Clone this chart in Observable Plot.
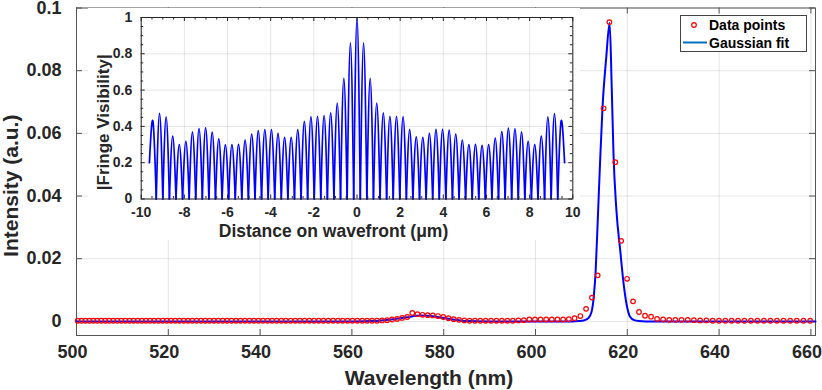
<!DOCTYPE html>
<html><head><meta charset="utf-8">
<script src="https://cdn.jsdelivr.net/npm/d3@7"></script>
<script src="https://cdn.jsdelivr.net/npm/@observablehq/plot@0.6"></script>
<style>
body{margin:0;background:#fff;}
#wrap{position:relative;width:822px;height:390px;font-family:"Liberation Sans",Arial,Helvetica,sans-serif;}
#wrap svg{display:block;}
#inset{position:absolute;left:88px;top:8px;}
#legend{position:absolute;left:680px;top:15px;}
</style></head><body><div id="wrap"><div id="main"></div><div id="inset"></div><div id="legend"></div></div>
<script>
// ---------- main spectrum data ----------
const wavelength = [
 500.26,501.11,501.96,502.82,503.68,504.54,505.41,506.28,507.15,508.02,
 508.90,509.78,510.66,511.55,512.44,513.33,514.23,515.13,516.03,516.93,
 517.85,518.76,519.67,520.59,521.51,522.43,523.36,524.29,525.22,526.16,
 527.11,528.05,529.00,529.95,530.90,531.86,532.82,533.78,534.76,535.73,
 536.70,537.68,538.66,539.64,540.64,541.63,542.62,543.62,544.62,545.62,
 546.64,547.65,548.67,549.69,550.72,551.75,552.78,553.81,554.85,555.90,
 556.95,558.00,559.05,
 560.12,561.18,562.25,563.32,564.40,565.48,566.56,567.66,568.75,569.84,
 570.94,572.05,573.16,574.27,575.39,576.51,577.63,578.77,579.90,581.04,
 582.19,583.33,584.49,585.64,586.80,587.97,589.14,590.31,591.50,592.68,
 593.88,595.07,596.27,597.47,598.67,599.89,601.10,602.33,603.55,604.79,
 606.02,607.27,608.51,609.77,611.02,612.29,613.55,614.83,616.10,
 617.38,618.66,619.95,621.25,622.55,623.86,625.17,626.49,627.81,629.14,
 630.47,631.82,633.16,634.51,635.87,637.23,638.60,639.97,641.35,642.73,
 644.12,645.52,646.93,648.34,649.75,651.17,652.60,654.03,655.47,656.92,
 658.38,659.84
];
const intensity = [
 0.0002,0.0002,0.0002,0.0002,0.0002,0.0002,0.0002,0.0002,0.0002,0.0002,
 0.0002,0.0002,0.0002,0.0002,0.0002,0.0002,0.0002,0.0002,0.0002,0.0002,
 0.0002,0.0002,0.0002,0.0002,0.0002,0.0002,0.0002,0.0002,0.0002,0.0002,
 0.0002,0.0002,0.0002,0.0002,0.0002,0.0002,0.0002,0.0002,0.0002,0.0002,
 0.0002,0.0002,0.0002,0.0002,0.0002,0.0002,0.0002,0.0002,0.0002,0.0002,
 0.0002,0.0002,0.0002,0.0002,0.0002,0.0002,0.0002,0.0002,0.0002,0.0002,
 0.0002,0.0002,0.0002,
 0.0002,0.0002,0.0002,0.0002,0.0002,0.0002,0.0003,0.0004,0.0006,0.0008,
 0.0011,0.0014,0.0027,0.0023,0.0021,0.0020,0.0019,0.0017,0.0014,0.0010,
 0.0007,0.0005,0.0003,0.0002,0.0002,0.0002,0.0002,0.0002,0.0002,0.0002,
 0.0002,0.0002,0.0003,0.0004,0.0006,0.0006,0.0006,0.0006,0.0006,0.0006,
 0.0006,0.0007,0.0010,0.0017,0.0040,0.0076,0.0147,0.0680,0.0955,
 0.0508,0.0257,0.0136,0.0064,0.0030,0.0018,0.0015,0.0008,0.0006,0.0005,
 0.0005,0.0005,0.0005,0.0004,0.0003,0.0003,0.0002,0.0002,0.0002,0.0002,
 0.0002,0.0002,0.0002,0.0002,0.0002,0.0002,0.0002,0.0002,0.0002,0.0002,
 0.0002,0.0002
];
const fitWavelength = [500,560,564,566,568,570,572,574,575,576.5,578,580,582,584,586,590,
 608,609.5,610.5,611.5,612.2,612.7,613.1,613.5,614.1,614.6,615.4,616.15,
 616.6,617.0,617.6,618.5,619.2,619.9,620.6,621.5,622.5,624,661];
const fitIntensity = [0,0,0.0001,0.0002,0.0005,0.0009,0.0013,0.0018,0.0019,0.0018,0.0016,0.0011,0.0006,0.0002,0.0001,0,
 0,0.0001,0.0003,0.0010,0.0030,0.0080,0.0160,0.0300,0.0520,0.0683,0.0840,0.0952,
 0.0750,0.0530,0.0360,0.0220,0.0120,0.0050,0.0015,0.0004,0.0001,0,0];
const xTicks = [500,520,540,560,580,600,620,640,660];
const yTicks = [0,0.02,0.04,0.06,0.08,0.1];
const yTickLabels = ["0","0.02","0.04","0.06","0.08","0.1"];

// ---------- inset: fringe visibility ----------
const peakDistance = [
 -9.455,-9.15,-8.845,-8.54,-8.235,-7.93,-7.625,-7.32,-7.015,-6.71,-6.405,-6.1,-5.795,-5.49,-5.185,-4.88,
 -4.575,-4.27,-3.965,-3.66,-3.355,-3.05,-2.745,-2.44,-2.135,-1.83,-1.525,-1.22,-0.915,-0.61,-0.305,0,
 0.305,0.61,0.915,1.22,1.525,1.83,2.135,2.44,2.745,3.05,3.355,3.66,3.965,4.27,4.575,4.88,5.185,5.49,
 5.795,6.1,6.405,6.71,7.015,7.32,7.625,7.93,8.235,8.54,8.845,9.15,9.455
];
const peakVisibility = [
 0.428,0.472,0.452,0.346,0.300,0.318,0.368,0.388,0.392,0.368,0.331,0.298,0.300,0.301,0.325,0.358,
 0.377,0.382,0.382,0.362,0.340,0.340,0.382,0.428,0.454,0.456,0.460,0.474,0.529,0.665,0.860,1.0,
 0.860,0.665,0.529,0.474,0.456,0.456,0.454,0.382,0.342,0.340,0.362,0.384,0.384,0.379,0.358,0.325,
 0.300,0.301,0.296,0.300,0.336,0.371,0.390,0.386,0.368,0.318,0.300,0.346,0.452,0.471,0.428
];
const curveStart = {x: -9.62, y: 0.2};
const curveEnd = {x: 9.62, y: 0.2};
const insetXTicks = [-10,-8,-6,-4,-2,0,2,4,6,8,10];
const insetYTicks = [0,0.2,0.4,0.6,0.8,1];

const ink = "#262626";
const font = '"Liberation Sans", Arial, Helvetica, sans-serif';

// ---------- main chart ----------
const W = 822, H = 390, mL = 76, mR = 7, mT = 7.5, mB = 55;
const iW = W - mL - mR, iH = H - mT - mB;
const pts = wavelength.map((x, i) => ({x, y: intensity[i]}));
const fit = fitWavelength.map((x, i) => ({x, y: fitIntensity[i]}));

const main = Plot.plot({
  width: W, height: H, marginLeft: mL, marginRight: mR, marginTop: mT, marginBottom: mB,
  style: {fontFamily: font, color: ink, background: "#fff", overflow: "visible"},
  x: {domain: [500, 661]},
  y: {domain: [-0.0045, 0.1]},
  marks: [
    Plot.gridX(xTicks, {stroke: "#000", strokeOpacity: 0.1}),
    Plot.gridY(yTicks, {stroke: "#000", strokeOpacity: 0.1}),
    Plot.tickX(xTicks, {insetTop: iH - 6, stroke: "#555"}),
    Plot.tickX(xTicks, {insetBottom: iH - 6, stroke: "#555"}),
    Plot.tickY(yTicks, {insetRight: iW - 6, stroke: "#555"}),
    Plot.tickY(yTicks, {insetLeft: iW - 6, stroke: "#555"}),
    Plot.frame({stroke: "#555", strokeWidth: 1}),
    Plot.axisX(xTicks, {tickSize: 0, tickPadding: 10, dx: -4, fontSize: 18, fontWeight: "bold", label: null, tickFormat: d => String(d)}),
    Plot.axisY(yTicks, {tickSize: 0, tickPadding: 15, fontSize: 18, fontWeight: "bold", label: null, tickFormat: (d, i) => yTickLabels[i]}),
    Plot.line(fit, {x: "x", y: "y", stroke: "#0000ff", strokeWidth: 2, curve: "monotone-x"}),
    Plot.dot(pts, {x: "x", y: "y", r: 2.3, stroke: "#ff0000", strokeWidth: 1.2, fill: "none"}),
    Plot.text(["Wavelength (nm)"], {frameAnchor: "bottom", textAnchor: "middle", lineAnchor: "middle", dx: -17, dy: 43, fontSize: 21, fontWeight: "bold", fill: ink}),
    Plot.text(["Intensity (a.u.)"], {frameAnchor: "left", textAnchor: "middle", lineAnchor: "middle", dx: -65, dy: 14, rotate: -90, fontSize: 21, fontWeight: "bold", fill: ink})
  ]
});
document.getElementById("main").appendChild(main);

// ---------- inset chart ----------
const IW = 492, IH = 232, imL = 52.7, imR = 7.7, imT = 9, imB = 41.5;
const iiW = IW - imL - imR, iiH = IH - imT - imB;
const lobes = [];
peakDistance.forEach((p, i) => {
  const left = i === 0 ? curveStart : {x: (peakDistance[i - 1] + p) / 2, y: 0};
  const right = i === peakDistance.length - 1 ? curveEnd : {x: (peakDistance[i + 1] + p) / 2, y: 0};
  lobes.push({x: left.x, y: left.y, k: i}, {x: p, y: peakVisibility[i], k: i}, {x: right.x, y: right.y, k: i});
});
const xMinor = d3.range(-10, 10.001, 0.5).filter(v => Math.abs(v % 2) > 1e-9);
const yMinor = d3.range(0, 1.0001, 0.05).filter(v => Math.abs(Math.round(v * 5) - v * 5) > 1e-6);

const inset = Plot.plot({
  width: IW, height: IH, marginLeft: imL, marginRight: imR, marginTop: imT, marginBottom: imB,
  style: {fontFamily: font, color: ink, background: "#fff", overflow: "visible"},
  x: {domain: [-10, 10]},
  y: {domain: [0, 1]},
  marks: [
    Plot.gridX(insetXTicks, {stroke: "#000", strokeOpacity: 0.1}),
    Plot.gridY(insetYTicks, {stroke: "#000", strokeOpacity: 0.1}),
    Plot.line(lobes, {x: "x", y: "y", z: "k", curve: "natural", stroke: "#0000ff", strokeWidth: 1.7}),
    Plot.tickX(insetXTicks, {insetTop: iiH - 4, stroke: ink}),
    Plot.tickX(insetXTicks, {insetBottom: iiH - 4, stroke: ink}),
    Plot.tickX(xMinor, {insetTop: iiH - 2.5, stroke: ink}),
    Plot.tickX(xMinor, {insetBottom: iiH - 2.5, stroke: ink}),
    Plot.tickY(insetYTicks, {insetRight: iiW - 4, stroke: ink}),
    Plot.tickY(insetYTicks, {insetLeft: iiW - 4, stroke: ink}),
    Plot.tickY(yMinor, {insetRight: iiW - 2.5, stroke: ink}),
    Plot.tickY(yMinor, {insetLeft: iiW - 2.5, stroke: ink}),
    Plot.frame({stroke: ink, strokeWidth: 1}),
    Plot.axisX(insetXTicks, {tickSize: 0, tickPadding: 8.5, fontSize: 14, fontWeight: "bold", label: null, tickFormat: d => String(d)}),
    Plot.axisY(insetYTicks, {tickSize: 0, tickPadding: 9, fontSize: 14, fontWeight: "bold", label: null, tickFormat: d => String(d)}),
    Plot.text(["Distance on wavefront (\u03bcm)"], {frameAnchor: "bottom", textAnchor: "middle", lineAnchor: "middle", dx: -23.5, dy: 32.5, fontSize: 17.5, fontWeight: "bold", fill: ink}),
    Plot.text(["|Fringe Visibility|"], {frameAnchor: "left", textAnchor: "middle", lineAnchor: "middle", dx: -37.7, dy: 14, rotate: -90, fontSize: 17, fontWeight: "bold", fill: ink})
  ]
});
document.getElementById("inset").appendChild(inset);

// ---------- legend ----------
const legendItems = ["Data points", "Gaussian fit"];
const lg = d3.select("#legend").append("svg").attr("width", 128).attr("height", 38);
lg.append("rect").attr("x", 0.5).attr("y", 0.5).attr("width", 126).attr("height", 36)
  .attr("fill", "#fff").attr("stroke", "#444").attr("stroke-width", 1);
lg.append("circle").attr("cx", 14).attr("cy", 10).attr("r", 2.3)
  .attr("fill", "none").attr("stroke", "#ff0000").attr("stroke-width", 1.2);
lg.append("line").attr("x1", 3).attr("x2", 27).attr("y1", 27.5).attr("y2", 27.5)
  .attr("stroke", "#0072BD").attr("stroke-width", 2);
lg.selectAll("text").data(legendItems).join("text")
  .attr("x", 29).attr("y", (d, i) => i === 0 ? 15 : 32.5)
  .attr("font-family", font).attr("font-size", 14).attr("font-weight", "bold").attr("fill", "#000")
  .text(d => d);
</script>
</body></html>
